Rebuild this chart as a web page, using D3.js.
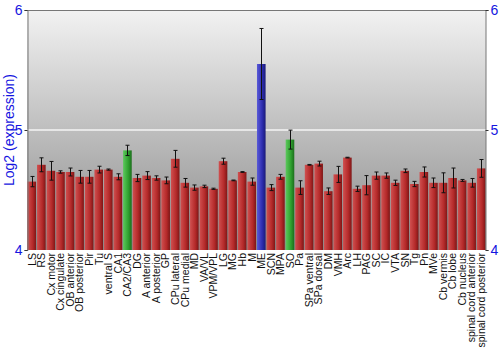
<!DOCTYPE html>
<html>
<head>
<meta charset="utf-8">
<script src="https://cdn.jsdelivr.net/npm/d3@7"></script>
<style>
  body { margin: 0; background: #fff; }
  svg { display: block; font-family: "Liberation Sans", Arial, sans-serif; }
</style>
</head>
<body>
<svg id="chart" width="500" height="350"></svg>
<script>
// Tissue names along the x axis
const regions = ["LS", "RS", "Cx motor", "Cx cingulate", "OB anterior", "OB posterior", "Pir", "Tu",
  "ventral S", "CA1", "CA2/CA3", "DG", "A anterior", "A posterior", "GP", "CPu lateral", "CPu medial",
  "MD", "VA/VL", "VPM/VPL", "LG", "MG", "Hb", "M", "ME", "SCN", "MPA", "SO", "Pa", "SPa ventral",
  "SPa dorsal", "DM", "VMH", "Arc", "LH", "PAG", "SC", "IC", "VTA", "SN", "Tg", "Pn", "MVe",
  "Cb vermis", "Cb lobe", "Cb nucleus", "spinal cord anterior", "spinal cord posterior"];

// Log2 expression per region
const expression = [4.57, 4.71, 4.66, 4.65, 4.65, 4.61, 4.61, 4.67,
  4.67, 4.61, 4.83, 4.60, 4.62, 4.60, 4.58, 4.76, 4.56,
  4.52, 4.53, 4.51, 4.74, 4.58, 4.65, 4.57, 5.55, 4.52, 4.61, 4.92, 4.52, 4.71,
  4.72, 4.49, 4.63, 4.77, 4.51, 4.54, 4.62, 4.62, 4.56, 4.66, 4.55, 4.65, 4.56,
  4.56, 4.60, 4.58, 4.56, 4.68];

// Error (half-length of the error bar)
const errors = [0.043, 0.058, 0.078, 0.010, 0.033, 0.053, 0.053, 0.028,
  0.005, 0.025, 0.043, 0.030, 0.033, 0.018, 0.028, 0.070, 0.036,
  0.022, 0.010, 0.005, 0.025, 0.003, 0.003, 0.030, 0.296, 0.025, 0.020, 0.079, 0.057, 0.003,
  0.020, 0.027, 0.067, 0.003, 0.022, 0.080, 0.030, 0.022, 0.022, 0.015, 0.022, 0.042, 0.040,
  0.083, 0.083, 0.008, 0.036, 0.074];

// Bar colour group: r = red, g = green, b = blue
const groups = regions.map(r => r === "ME" ? "b" : (r === "CA2/CA3" || r === "SO") ? "g" : "r");

const yTicks = [4, 5, 6];

const margin = { top: 10, right: 14, bottom: 100, left: 27 };
const width = 500, height = 350;
const svg = d3.select("#chart");

const x = d3.scaleBand()
    .domain(regions)
    .range([margin.left, width - margin.right])
    .paddingInner(0.1)
    .paddingOuter(0.05);

const y = d3.scaleLinear()
    .domain([4, 6])
    .range([height - margin.bottom, margin.top]);

const defs = svg.append("defs");

// background gradient
const bg = defs.append("linearGradient")
    .attr("id", "bg").attr("x1", 0).attr("y1", 0).attr("x2", 0).attr("y2", 1);
bg.append("stop").attr("offset", "0%").attr("stop-color", "#f2f2f2");
bg.append("stop").attr("offset", "100%").attr("stop-color", "#8a8a8a");

// cylinder-ish bar fills
const palette = {
    r: ["#d05050", "#b52a2a", "#7e1616"],
    g: ["#5cc95c", "#2fa12f", "#1c6e1c"],
    b: ["#5a5ad8", "#2d2db0", "#1a1a78"]
};
Object.entries(palette).forEach(([k, c]) => {
    const g = defs.append("linearGradient")
        .attr("id", "bar-" + k).attr("x1", 0).attr("y1", 0).attr("x2", 1).attr("y2", 0);
    g.append("stop").attr("offset", "0%").attr("stop-color", c[0]);
    g.append("stop").attr("offset", "60%").attr("stop-color", c[1]);
    g.append("stop").attr("offset", "100%").attr("stop-color", c[2]);
});

const x0 = margin.left, x1 = width - margin.right;

svg.append("rect")
    .attr("x", x0).attr("y", y(6))
    .attr("width", x1 - x0).attr("height", y(4) - y(6))
    .attr("fill", "url(#bg)");

// gridline at 5
svg.append("line")
    .attr("x1", x0).attr("x2", x1)
    .attr("y1", y(5)).attr("y2", y(5))
    .attr("stroke", "#f4f4f4").attr("stroke-width", 1.5);

// bars
svg.append("g")
    .selectAll("rect")
    .data(regions)
    .join("rect")
    .attr("x", d => x(d))
    .attr("width", x.bandwidth())
    .attr("y", (d, i) => y(expression[i]))
    .attr("height", (d, i) => y(4) - y(expression[i]))
    .attr("fill", (d, i) => "url(#bar-" + groups[i] + ")");

// error bars
const eb = svg.append("g").attr("stroke", "#111").attr("stroke-width", 1);
regions.forEach((d, i) => {
    const cx = Math.round(x(d) + x.bandwidth() / 2) + 0.5;
    const lo = y(expression[i] - errors[i]), hi = y(expression[i] + errors[i]);
    eb.append("line").attr("x1", cx).attr("x2", cx).attr("y1", lo).attr("y2", hi);
    eb.append("line").attr("x1", cx - 2).attr("x2", cx + 2).attr("y1", lo).attr("y2", lo);
    eb.append("line").attr("x1", cx - 2).attr("x2", cx + 2).attr("y1", hi).attr("y2", hi);
});

// frame: top line, left and right axes
svg.append("line").attr("x1", x0).attr("x2", x1).attr("y1", y(6) + 0.5).attr("y2", y(6) + 0.5)
    .attr("stroke", "#777");

const leftAxis = svg.append("g")
    .attr("transform", `translate(${x0 + 0.5},0)`)
    .call(d3.axisLeft(y).tickValues(yTicks).tickFormat(d3.format("d")).tickSize(3).tickPadding(2));
const rightAxis = svg.append("g")
    .attr("transform", `translate(${x1 - 0.5},0)`)
    .call(d3.axisRight(y).tickValues(yTicks).tickFormat(d3.format("d")).tickSize(3).tickPadding(2));

[leftAxis, rightAxis].forEach(a => {
    a.select(".domain").attr("stroke", "#777");
    a.selectAll(".tick line").attr("stroke", "#333");
    a.selectAll("text")
        .attr("fill", "#1515e0")
        .style("font-size", "14px")
        .style("font-family", "'Liberation Sans', Arial, sans-serif");
});

// x labels, vertical
svg.append("g")
    .selectAll("text")
    .data(regions)
    .join("text")
    .attr("transform", d => `translate(${x(d) + x.bandwidth() / 2},${y(4) + 3}) rotate(-90)`)
    .attr("text-anchor", "end")
    .attr("dy", "0.36em")
    .attr("font-size", "10.5px")
    .attr("fill", "#111")
    .text(d => d);

// y title
svg.append("text")
    .attr("transform", `translate(9,${(y(4) + y(6)) / 2}) rotate(-90)`)
    .attr("text-anchor", "middle")
    .attr("dy", "0.36em")
    .attr("font-size", "14px")
    .attr("fill", "#1515e0")
    .text("Log2 (expression)");
</script>
</body>
</html>
